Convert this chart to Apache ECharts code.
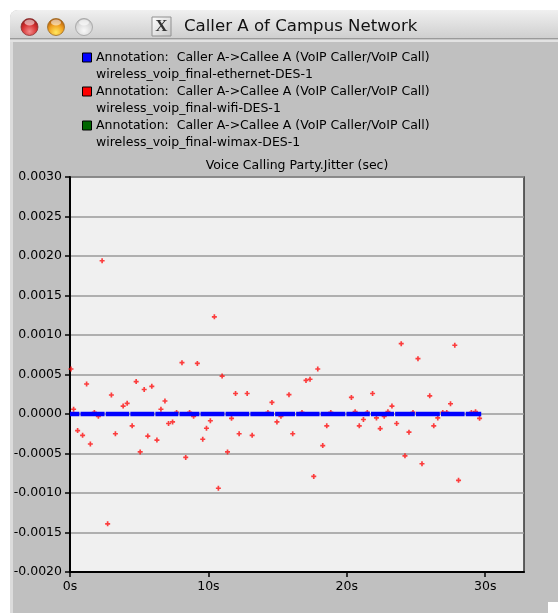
<!DOCTYPE html>
<html>
<head>
<meta charset="utf-8">
<script src="https://cdn.jsdelivr.net/npm/echarts@6/dist/echarts.min.js"></script>
<style>
html,body{margin:0;padding:0;background:#fff;}
#c{width:558px;height:613px;}
</style>
</head>
<body>
<div id="c"></div>
<script>
// ---- data ----
const windowTitle = 'Caller A of Campus Network';
const chartTitle = 'Voice Calling Party.Jitter (sec)';
const seriesLines1 = [
  'Annotation:  Caller A->Callee A (VoIP Caller/VoIP Call)',
  'Annotation:  Caller A->Callee A (VoIP Caller/VoIP Call)',
  'Annotation:  Caller A->Callee A (VoIP Caller/VoIP Call)'
];
const seriesLines2 = [
  'wireless_voip_final-ethernet-DES-1',
  'wireless_voip_final-wifi-DES-1',
  'wireless_voip_final-wimax-DES-1'
];
const seriesColors = ['#0000ff', '#ff0000', '#006600'];
const yTicks = [-0.002, -0.0015, -0.001, -0.0005, 0, 0.0005, 0.001, 0.0015, 0.002, 0.0025, 0.003];
const xTicks = [0, 10, 20, 30];

// ethernet (blue): value 0 from 0 s to end, with small breaks at these times
const blueStart = 0;
const blueEnd = 29.71;
const blueBreaks = [0.72, 2.54, 4.32, 6.13, 7.87, 9.39, 11.2, 12.99, 14.78, 16.3, 18.07, 19.93, 21.7, 23.45, 24.95, 26.76, 28.55];
const blueValue = 0;

// wifi (red)
const redT = [0.07,0.26,0.55,0.91,1.2,1.47,1.76,2.05,2.32,2.72,2.99,3.28,3.84,4.13,4.49,4.78,5.07,5.36,5.62,5.91,6.28,6.57,6.86,7.12,7.41,7.7,8.09,8.36,8.64,8.93,9.2,9.59,9.86,10.14,10.43,10.72,10.99,11.38,11.67,11.96,12.22,12.8,13.16,14.3,14.59,14.95,15.24,15.82,16.09,16.76,17.05,17.34,17.61,17.9,18.26,18.55,18.84,20.33,20.6,20.9,21.2,21.48,21.86,22.14,22.41,22.7,22.97,23.26,23.6,23.93,24.2,24.49,24.78,25.14,25.43,25.99,26.28,26.57,26.93,27.22,27.49,27.8,28.07,29.0,29.3,29.59];
const redV = [0.00057,0.00006,-0.00021,-0.00027,0.00038,-0.00038,0.00002,-0.00003,0.00194,-0.00139,0.00024,-0.00025,0.0001,0.000135,-0.00015,0.00041,-0.00048,0.00031,-0.00028,0.00035,-0.00033,0.00006,0.000165,-0.00012,-0.0001,0.00002,0.00065,-0.00055,0.00002,-0.00003,0.00064,-0.00032,-0.00018,-0.000085,0.00123,-0.00094,0.00048,-0.00048,-0.000055,0.00026,-0.00025,0.00026,-0.00027,0.00002,0.000147,-0.0001,-0.00003,0.000245,-0.00025,0.00002,0.000425,0.00044,-0.00079,0.00057,-0.0004,-0.00015,0.00002,0.00021,0.00003,-0.00015,-0.00007,0.00002,0.00026,-0.00005,-0.000185,-0.00003,0.00003,0.0001,-0.00012,0.00089,-0.00053,-0.00023,0.00002,0.0007,-0.00063,0.00023,-0.00015,-0.00005,0.00002,0.00002,0.00013,0.00087,-0.00084,0.00002,0.00003,-0.000055];

// wimax (green): no visible points
const greenT = [];
const greenV = [];

// ---- build ----
const chart = echarts.init(document.getElementById('c'), null, {renderer: 'canvas'});
const gapHalf = 0.04;
const bluePts = [];
const cuts = [blueStart].concat(blueBreaks).concat([blueEnd]);
for (let i = 0; i < cuts.length - 1; i++) {
  const s = i === 0 ? cuts[i] : cuts[i] + gapHalf;
  const e = i === cuts.length - 2 ? cuts[i + 1] : cuts[i + 1] - gapHalf;
  bluePts.push([s, blueValue], [e, blueValue], [e + 0.001, '-']);
}
const redPts = redT.map((t, i) => [t, redV[i]]);
const greenPts = greenT.map((t, i) => [t, greenV[i]]);

const plus = 'path://M1,0H2V1H3V2H2V3H1V2H0V1H1Z';
const font = '"DejaVu Sans", Verdana, sans-serif';

const graphics = [
  // window body
  {type: 'rect', z: -10, shape: {x: 10, y: 10, width: 560, height: 620, r: [8, 0, 0, 0]}, style: {fill: '#c0c0c0'}},
  {type: 'rect', z: -9, shape: {x: 10, y: 10, width: 560, height: 28, r: [8, 0, 0, 0]},
    style: {fill: new echarts.graphic.LinearGradient(0, 0, 0, 1, [{offset: 0, color: '#f0f0f0'}, {offset: 1, color: '#cfcfcf'}])}},
  {type: 'rect', z: -9, shape: {x: 10, y: 38, width: 560, height: 1.5}, style: {fill: '#9a9a9a'}},
  {type: 'rect', z: -9, shape: {x: 10, y: 39.5, width: 560, height: 2.5}, style: {fill: '#e2e2e2'}},
  {type: 'rect', z: -9, shape: {x: 10, y: 42, width: 3, height: 600}, style: {fill: '#dcdcdc'}},
  {type: 'rect', z: -9, shape: {x: 548, y: 602, width: 12, height: 12}, style: {fill: '#ffffff'}},
  // traffic lights
  {type: 'circle', z: -8, shape: {cx: 29.5, cy: 27, r: 8.5},
    style: {fill: new echarts.graphic.RadialGradient(0.5, 0.75, 0.7, [{offset: 0, color: '#f28b8b'}, {offset: 0.6, color: '#d53030'}, {offset: 1, color: '#8e1a1a'}]), stroke: '#8a3030', lineWidth: 0.8}},
  {type: 'circle', z: -8, shape: {cx: 56, cy: 27, r: 8.5},
    style: {fill: new echarts.graphic.RadialGradient(0.5, 0.8, 0.7, [{offset: 0, color: '#ffe860'}, {offset: 0.6, color: '#f0a020'}, {offset: 1, color: '#b46010'}]), stroke: '#9a6a20', lineWidth: 0.8}},
  {type: 'circle', z: -8, shape: {cx: 84, cy: 27, r: 8.5},
    style: {fill: new echarts.graphic.RadialGradient(0.5, 0.7, 0.7, [{offset: 0, color: '#f8f8f8'}, {offset: 0.7, color: '#d6d6d6'}, {offset: 1, color: '#b0b0b0'}]), stroke: '#a0a0a0', lineWidth: 0.8}},
  {type: 'ellipse', z: -7, shape: {cx: 29.5, cy: 22.5, rx: 5, ry: 3}, style: {fill: 'rgba(255,255,255,0.55)'}},
  {type: 'ellipse', z: -7, shape: {cx: 56, cy: 22.5, rx: 5, ry: 3}, style: {fill: 'rgba(255,255,255,0.55)'}},
  {type: 'ellipse', z: -7, shape: {cx: 84, cy: 22.5, rx: 5, ry: 3}, style: {fill: 'rgba(255,255,255,0.6)'}},
  // X icon
  {type: 'rect', z: -8, shape: {x: 152, y: 17, width: 19, height: 19},
    style: {fill: new echarts.graphic.LinearGradient(0, 0, 1, 1, [{offset: 0, color: '#ffffff'}, {offset: 1, color: '#c8c8c8'}]), stroke: '#909090', lineWidth: 1}},
  {type: 'text', z: -7, style: {x: 161.5, y: 27, text: 'X', fill: '#333', font: 'bold 17px "Liberation Serif", serif', align: 'center', verticalAlign: 'middle'}},
  // window title
  {type: 'text', z: -7, style: {x: 184, y: 26.5, text: windowTitle, fill: '#111', font: '16.6px "DejaVu Sans", sans-serif', verticalAlign: 'middle'}},
  // chart title
  {type: 'text', style: {x: 297, y: 166, text: chartTitle, fill: '#000', font: '12.5px ' + font, align: 'center', verticalAlign: 'middle'}}
];
// legend
for (let i = 0; i < 3; i++) {
  const y0 = 58 + i * 34;
  graphics.push({type: 'rect', shape: {x: 82.5, y: y0 - 5, width: 9, height: 9}, style: {fill: seriesColors[i], stroke: '#000', lineWidth: 1}});
  graphics.push({type: 'text', style: {x: 96, y: y0, text: seriesLines1[i], fill: '#000', font: '12.5px ' + font, verticalAlign: 'middle'}});
  graphics.push({type: 'text', style: {x: 96, y: y0 + 16.5, text: seriesLines2[i], fill: '#000', font: '12.5px ' + font, verticalAlign: 'middle'}});
}

chart.setOption({
  animation: false,
  backgroundColor: '#ffffff',
  graphic: graphics,
  grid: {left: 70, top: 177, width: 454, height: 395, show: true, backgroundColor: '#f0f0f0', borderColor: '#333', borderWidth: 1.5, containLabel: false},
  xAxis: {
    type: 'value', min: 0, max: 32.8, interval: 10,
    axisLine: {show: true, onZero: false, lineStyle: {color: '#000', width: 2}},
    axisTick: {show: true, inside: false, length: 5, lineStyle: {color: '#000', width: 1.5}, customValues: xTicks},
    axisLabel: {color: '#000', fontSize: 12.5, fontFamily: 'DejaVu Sans', margin: 8, customValues: xTicks, formatter: v => v + 's'},
    splitLine: {show: false}
  },
  yAxis: {
    type: 'value', min: -0.002, max: 0.003, interval: 0.0005,
    axisLine: {show: true, onZero: false, lineStyle: {color: '#000', width: 2}},
    axisTick: {show: true, inside: false, length: 5, lineStyle: {color: '#000', width: 1.5}},
    axisLabel: {color: '#000', fontSize: 12.5, fontFamily: 'DejaVu Sans', margin: 8, formatter: v => v.toFixed(4)},
    splitLine: {show: true, lineStyle: {color: '#9a9a9a', width: 1.6}}
  },
  series: [
    {name: seriesLines2[1], type: 'scatter', data: redPts, symbol: plus, symbolSize: 5, itemStyle: {color: '#ff1010'}, z: 2},
    {name: seriesLines2[2], type: 'scatter', data: greenPts, symbol: plus, symbolSize: 5, itemStyle: {color: seriesColors[2]}, z: 2},
    {name: seriesLines2[0], type: 'line', data: bluePts, showSymbol: false, connectNulls: false, lineStyle: {color: seriesColors[0], width: 4.5, cap: 'butt'}, z: 3}
  ]
});
</script>
</body>
</html>
